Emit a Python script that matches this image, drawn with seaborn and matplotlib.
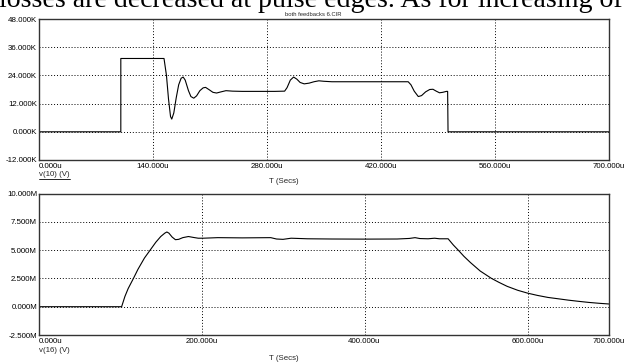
import matplotlib
matplotlib.use('Agg')
import matplotlib.pyplot as plt
from matplotlib.lines import Line2D
import seaborn as sb
import pandas as pd

# v(10) trace: time in us, volts in K
t_v10 = [0, 101, 101, 154, 157, 159.5, 162, 163.5, 166, 169, 172, 175, 177.5, 180, 184, 187,
         190.5, 194, 198, 202, 205, 209, 214, 218.5, 224, 230, 238, 250, 270, 290, 302, 305,
         309, 313, 317, 321, 326, 332, 338, 344, 350, 360, 400, 440, 453.6, 457, 461, 466,
         470, 475, 480, 484, 488, 492, 496, 500.5, 502, 502.5, 700]
v10 = [0, 0, 31.2, 31.2, 24, 14, 6.5, 5.4, 8, 14.5, 20, 22.8, 23.3, 22, 17.5, 15,
       14.3, 15.3, 17.5, 18.7, 18.9, 18, 16.8, 16.5, 17, 17.5, 17.3, 17.2, 17.2, 17.2, 17.3, 18.8,
       22, 23.3, 22.4, 21, 20.4, 20.7, 21.3, 21.7, 21.5, 21.3, 21.3, 21.3, 21.3, 20, 17.3, 15,
       15.4, 17, 18, 18.1, 17.3, 16.6, 16.8, 17.2, 17.2, 0, 0]

# v(16) trace: time in us, volts in M
t_v16 = [0, 102, 106, 110, 116.5, 122, 130, 137, 144, 150, 155, 157.5, 160, 164, 168, 172,
         177, 184, 190, 196, 202, 220, 250, 285, 292, 300, 310, 330, 360, 400, 440, 455,
         462, 468, 478, 486, 492, 502.6, 509, 515, 522, 530, 542, 555.8, 565, 575, 588, 600,
         612, 625, 637.6, 650, 662, 675, 688, 700]
v16 = [0, 0, 0.9, 1.6, 2.5, 3.3, 4.3, 5.0, 5.7, 6.2, 6.5, 6.6, 6.5, 6.15, 5.92, 5.95,
       6.1, 6.2, 6.12, 6.05, 6.05, 6.1, 6.08, 6.1, 5.98, 5.95, 6.05, 6.0, 5.98, 5.97, 5.98, 6.03,
       6.1, 6.02, 6.0, 6.05, 6.0, 6.0, 5.45, 5.0, 4.45, 3.9, 3.15, 2.5, 2.15, 1.8, 1.45, 1.2,
       1.0, 0.82, 0.7, 0.58, 0.48, 0.38, 0.3, 0.24]

top_xticks = [0, 140, 280, 420, 560, 700]
top_yticks = [-12, 0, 12, 24, 36, 48]
bot_xticks = [0, 200, 400, 600, 700]
bot_yticks = [-2.5, 0, 2.5, 5, 7.5, 10]

caption = 'losses are decreased at pulse edges. As for increasing of'
title = 'both feedbacks 6.CIR'

sb.set_theme(style='white')
plt.rcParams['font.family'] = ['Liberation Sans', 'DejaVu Sans']
plt.rcParams['font.size'] = 5.7

W, H = 625, 363
fig = plt.figure(figsize=(W / 100, H / 100), dpi=100)
fig.patch.set_facecolor('white')


def px_axes(left, top, right, bottom):
    return fig.add_axes([left / W, 1 - bottom / H, (right - left) / W, (bottom - top) / H])


def draw_trace(ax, t, v, xticks, yticks, unit):
    df = pd.DataFrame({'t': t, 'v': v})
    sb.lineplot(data=df, x='t', y='v', ax=ax, color='black', lw=0.8,
                sort=False, estimator=None)
    ax.set_xlim(xticks[0], xticks[-1])
    ax.set_ylim(yticks[0], yticks[-1])
    ax.set_xticks(xticks)
    ax.set_yticks(yticks)
    ax.set_xticklabels(['{:.3f}u'.format(x) for x in xticks])
    ax.set_yticklabels(['{:.3f}{}'.format(y, unit) for y in yticks])
    ax.get_xticklabels()[0].set_horizontalalignment('left')
    ax.tick_params(axis='both', length=0, labelsize=5.7, colors='black')
    ax.tick_params(axis='y', pad=1)
    ax.tick_params(axis='x', pad=2)
    ax.grid(True, color='black', lw=0.7, ls=(0, (1, 2)))
    ax.set_xlabel('')
    ax.set_ylabel('')
    ax.set_facecolor('white')
    for s in ax.spines.values():
        s.set_visible(True)
        s.set_color('#333333')
        s.set_linewidth(1)


ax_top = px_axes(38.5, 19, 609, 160)
ax_bot = px_axes(38.5, 193.5, 609, 335)
draw_trace(ax_top, t_v10, v10, top_xticks, top_yticks, 'K')
draw_trace(ax_bot, t_v16, v16, bot_xticks, bot_yticks, 'M')

cap = fig.text(-1 / W, 1 - 7 / H, caption, family='Liberation Serif', fontsize=18,
               va='baseline', ha='left', color='black')
fig.text(313 / W, 1 - 14 / H, title, ha='center', va='center', fontsize=4.2)
lab10 = fig.text(39 / W, 1 - 175 / H, 'v(10) (V)', ha='left', va='center')
fig.text(284 / W, 1 - 182 / H, 'T (Secs)', ha='center', va='center')
fig.text(39 / W, 1 - 350 / H, 'v(16) (V)', ha='left', va='center')
fig.text(284 / W, 1 - 358 / H, 'T (Secs)', ha='center', va='center')

# fit the cut-off caption across the page width and underline the first trace label
renderer = fig.canvas.get_renderer()
bb = cap.get_window_extent(renderer)
cap.set_fontsize(18 * 624 / bb.width)
bb = lab10.get_window_extent(renderer)
fig.add_artist(Line2D([bb.x0 / W, bb.x1 / W], [(bb.y0 - 0.5) / H, (bb.y0 - 0.5) / H],
                      transform=fig.transFigure, color='black', lw=0.6))

fig.savefig('out.png', dpi=100, facecolor='white')
